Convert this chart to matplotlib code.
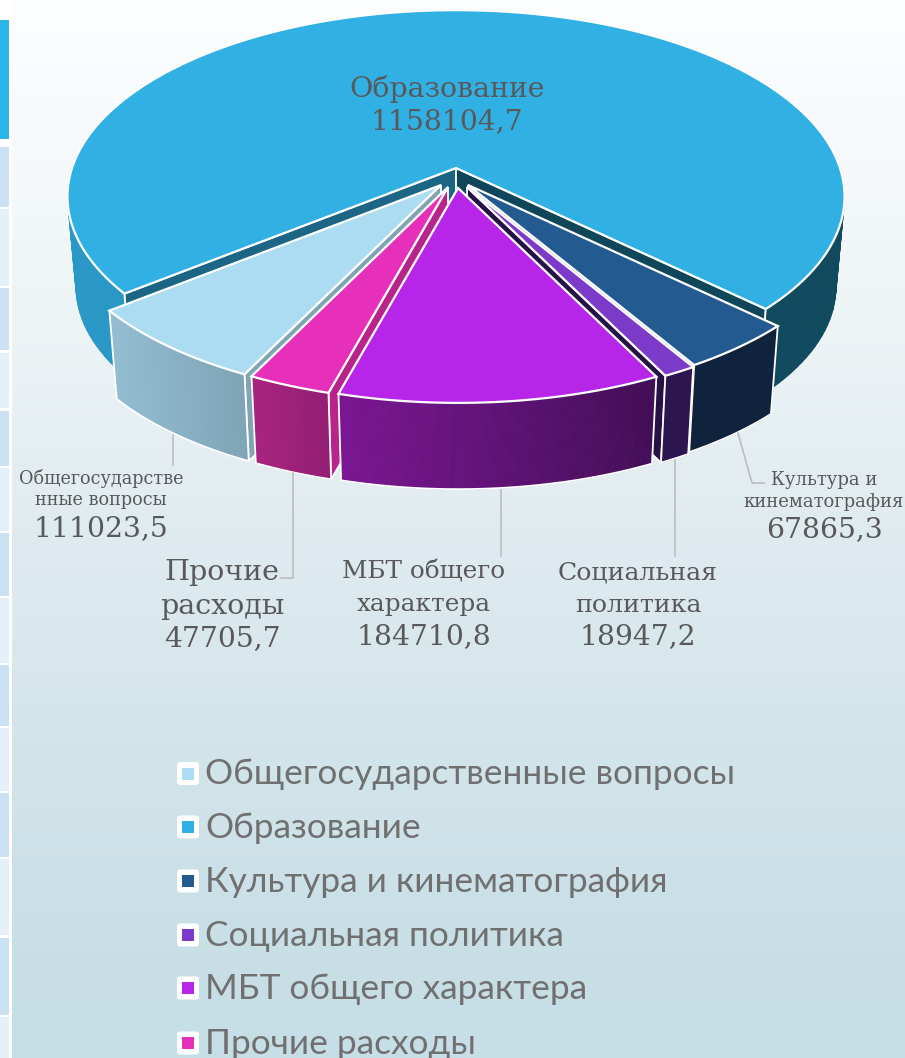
import numpy as np
import matplotlib
matplotlib.use('Agg')
import matplotlib.pyplot as plt
from matplotlib.collections import PolyCollection
from matplotlib.patches import FancyBboxPatch, Rectangle, Polygon
from matplotlib.colors import to_rgb, LinearSegmentedColormap

W, H = 905, 1058

# data, same order as the legend
categories = ['Общегосударственные вопросы', 'Образование', 'Культура и кинематография',
              'Социальная политика', 'МБТ общего характера', 'Прочие расходы']
values = [111023.5, 1158104.7, 67865.3, 18947.2, 184710.8, 47705.7]
colors = ['#ABDCF1', '#31B0E4', '#235A8F', '#7C3AC8', '#B725E8', '#E630BB']

# label lines, one list per slice
label_lines = [['Общегосударстве', 'нные вопросы'], ['Образование'], ['Культура и', 'кинематография'],
               ['Социальная', 'политика'], ['МБТ общего', 'характера'], ['Прочие', 'расходы']]
label_sizes = [12.7, 20.4, 13, 18.2, 17.8, 20.5]
label_x = [101, 447, 824, 638, 424, 222]
label_y = [[478, 500, 529], [89, 122], [480, 502, 530], [573, 605, 637], [572, 605, 637], [572, 606, 639]]

# slice look
apex = [(441, 185), (456, 168), (468, 185), (467, 187), (458, 188), (448, 187)]
side_left = ['#94BDD1', '#2A98C6', '#10233C', '#2D164F', '#7B1693', '#A8247F']
side_right = ['#7EA4B6', '#114A5E', '#10233C', '#2D164F', '#430E57', '#931E73']
wall_color = ['#7FA5B5', '#1B6685', '#10233C', '#261245', '#43105A', '#B7248C']
# which cut walls face the viewer: 0 = start of the slice, -1 = end
visible_walls = [[0], [0, -1], [-1], [-1], [], [0]]
draw_order = [1, 2, 3, 0, 5, 4]

first_angle = 206.2
depth = 91
bottom_scale = 0.978
f, g, k = 384., 182., 0.153

# left strip
strip_rows = [(147, 207), (209, 286), (288, 350), (353, 408), (411, 466), (468, 531), (533, 596),
              (598, 663), (665, 726), (728, 791), (793, 857), (859, 935), (938, 1015), (1017, 1058)]

# leader lines
leaders = [[(173, 435), (173, 465)], [(293, 473), (293, 578), (281, 578)], [(501, 490), (501, 556)],
           [(675, 460), (675, 556)], [(738, 433), (752, 483), (764, 483)]]


def proj(psi):
    # clockwise angle from 12 o'clock -> screen offset from the slice apex
    a = np.radians(psi)
    X = np.sin(a)
    Y = -np.cos(a)
    w = 1 - k * Y
    return f * X / w, g * Y / w


def fmt(v):
    return f'{v:.1f}'.replace('.', ',')


fig = plt.figure(figsize=(W / 100, H / 100), dpi=100)
ax = fig.add_axes([0, 0, 1, 1])
ax.set_xlim(0, W)
ax.set_ylim(H, 0)
ax.axis('off')

# background
cmap = LinearSegmentedColormap.from_list('bg', [(0, '#FDFEFF'), (0.3, '#EDF4F6'), (0.5, '#E0EBF0'),
                                                (0.7, '#D3E5EA'), (0.9, '#C8DFE6'), (1, '#C6DEE5')])
ax.add_patch(Rectangle((0, 0), W, H, fc='white', ec='none', zorder=0))
grad = np.linspace(0, 1, 256).reshape(-1, 1)
ax.imshow(grad, cmap=cmap, extent=(12, W, H, 0), aspect='auto', zorder=0.5)
ax.set_xlim(0, W)
ax.set_ylim(H, 0)

ax.add_patch(Rectangle((0, 20), 9, 119, fc='#2BB5E8', ec='none', zorder=1))
for i, (y0, y1) in enumerate(strip_rows):
    ax.add_patch(Rectangle((0, y0), 9, y1 - y0, fc='#C9E1F3' if i % 2 == 0 else '#E3F0FA', ec='none', zorder=1))

# slice angles come from the values
fractions = np.array(values) / np.sum(values)
starts = first_angle + np.concatenate([[0], np.cumsum(fractions[:-1])]) * 360
ends = starts + fractions * 360

z = 2
for i in draw_order:
    ax0, ay0 = apex[i]
    psi = np.linspace(starts[i], ends[i], 160)
    dx, dy = proj(psi)
    topx, topy = ax0 + dx, ay0 + dy
    botx, boty = ax0 + bottom_scale * dx, ay0 + depth + bottom_scale * dy

    # cut walls
    for j in visible_walls[i]:
        c = '#0F4659' if i == 1 and j == -1 else wall_color[i]
        wall = [(ax0, ay0), (topx[j], topy[j]), (botx[j], boty[j]), (ax0, ay0 + depth)]
        ax.add_patch(Polygon(wall, closed=True, fc=c, ec='white', lw=1.3, joinstyle='miter', zorder=z))
        z += 1

    # outer side as small quads so the shade can change along it
    quads = []
    quad_cols = []
    cl, cr = np.array(to_rgb(side_left[i])), np.array(to_rgb(side_right[i]))
    for n in range(len(psi) - 1):
        quads.append([(topx[n], topy[n]), (topx[n + 1], topy[n + 1]), (botx[n + 1], boty[n + 1]), (botx[n], boty[n])])
        if i == 1:
            quad_cols.append(cl if (psi[n] % 360) > 180 else cr)
        else:
            t = (0.5 * (topx[n] + topx[n + 1]) - topx.min()) / (topx.max() - topx.min())
            quad_cols.append(cl + (cr - cl) * t)
    ax.add_collection(PolyCollection(quads, facecolors=quad_cols, edgecolors=quad_cols, linewidths=0.6, zorder=z))
    z += 1
    if i != 1:
        ax.plot(botx, boty, color='white', lw=1.3, zorder=z, solid_capstyle='butt')
    for j in (0, -1):
        ax.plot([topx[j], botx[j]], [topy[j], boty[j]], color='white', lw=1.3, zorder=z)
    z += 1

    # top face
    top = np.column_stack([np.r_[ax0, topx], np.r_[ay0, topy]])
    ax.add_patch(Polygon(top, closed=True, fc=colors[i], ec='white', lw=1.6, joinstyle='miter', zorder=z))
    z += 1

# leader lines
for line in leaders:
    xs, ys = zip(*line)
    ax.plot(xs, ys, color='#BDBDBD', lw=1.2, zorder=z)
z += 1

# labels
for i in range(len(categories)):
    lines = label_lines[i]
    for n, t in enumerate(lines):
        ax.text(label_x[i], label_y[i][n], t, family='DejaVu Serif', fontsize=label_sizes[i],
                color='#595959', ha='center', va='center', zorder=z)
    ax.text(label_x[i], label_y[i][len(lines)], fmt(values[i]), family='DejaVu Serif', fontsize=20.3,
            color='#595959', ha='center', va='center', zorder=z)

# legend
legend_y = [773.5, 827, 881, 935, 988, 1043]
for i, name in enumerate(categories):
    y = legend_y[i]
    ax.add_patch(FancyBboxPatch((179, y - 9.5), 18, 19, boxstyle='round,pad=2,rounding_size=3',
                                fc='white', ec='none', zorder=z))
    ax.add_patch(Rectangle((182, y - 6), 12, 12, fc=colors[i], ec='none', zorder=z + 1))
    ax.text(205, y + 11, name, family='Lato', fontsize=25.4, color='#707070', ha='left', va='baseline', zorder=z)

fig.savefig('out.png', dpi=100)
